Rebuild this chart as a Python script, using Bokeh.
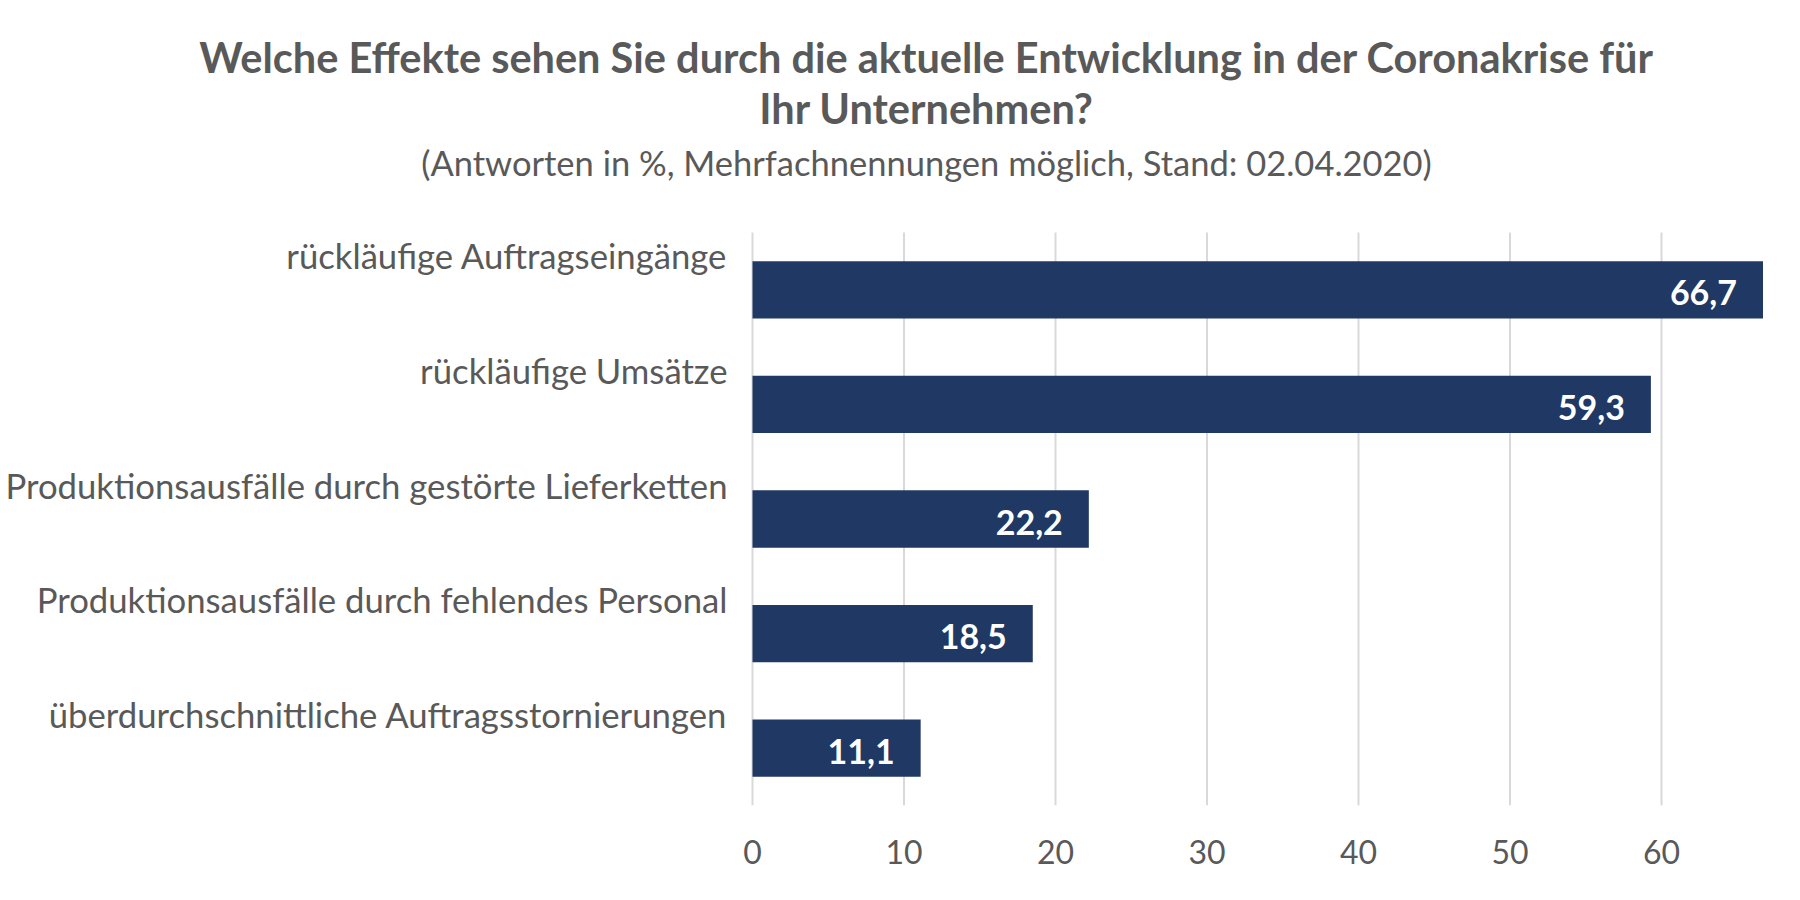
from bokeh.plotting import figure
from bokeh.models import ColumnDataSource, Label, Range1d, FixedTicker
from bokeh.core.properties import value
from bokeh.embed import file_html
from bokeh.resources import INLINE

# data, top to bottom as in the chart
categories = [
    "rückläufige Auftragseingänge",
    "rückläufige Umsätze",
    "Produktionsausfälle durch gestörte Lieferketten",
    "Produktionsausfälle durch fehlendes Personal",
    "überdurchschnittliche Auftragsstornierungen",
]
values = [66.7, 59.3, 22.2, 18.5, 11.1]
value_labels = ["66,7", "59,3", "22,2", "18,5", "11,1"]
x_ticks = [0, 10, 20, 30, 40, 50, 60]

title_1 = "Welche Effekte sehen Sie durch die aktuelle Entwicklung in der Coronakrise für"
title_2 = "Ihr Unternehmen?"
subtitle = "(Antworten in %, Mehrfachnennungen möglich, Stand: 02.04.2020)"

FONT = "Lato"
GREY = "#595959"
NAVY = "#203864"

W, H = 1784, 884
# pixel geometry of the plotting area (the frame covers the whole top/left so that
# the texts outside the bars are not clipped)
x0_px, grid_top, grid_bottom = 752, 232, 805
px_x = 15.15                      # pixels per percent
px_y = (grid_bottom - grid_top) / len(categories)

n = len(categories)
ypos = [n - i - 0.5 for i in range(n)]

src = ColumnDataSource(dict(y=ypos, cat=categories, val=values, lab=value_labels))

p = figure(width=W, height=H, output_backend="svg", toolbar_location=None,
           x_range=Range1d(-x0_px / px_x, (W - x0_px) / px_x),
           y_range=Range1d(0, grid_bottom / px_y),
           min_border_left=0, min_border_right=0, min_border_top=0,
           min_border_bottom=H - grid_bottom)
p.outline_line_color = None
p.background_fill_color = "white"
p.border_fill_color = "white"
p.yaxis.visible = False
p.grid.visible = False

# vertical grid lines, only across the bar area
p.segment(x0=x_ticks, y0=0, x1=x_ticks, y1=n, line_color="#D9D9D9", line_width=2)

p.hbar(y="y", right="val", left=0, height=0.5, source=src,
       fill_color=NAVY, line_color=None)

p.xaxis.ticker = FixedTicker(ticks=x_ticks)
p.xaxis.axis_line_color = None
p.xaxis.major_tick_line_color = None
p.xaxis.minor_tick_line_color = None
p.xaxis.major_label_text_font = FONT
p.xaxis.major_label_text_font_size = "32px"
p.xaxis.major_label_text_color = GREY
p.xaxis.major_label_standoff = 28

# category labels sit above the bar centres, right aligned at the zero line
p.text(x=0, y="y", text="cat", source=src, x_offset=-25, y_offset=-34,
       text_align="right", text_baseline="middle",
       text_font=value(FONT), text_font_size="34.7px", text_color=GREY)

p.text(x="val", y="y", text="lab", source=src, x_offset=-26, y_offset=3,
       text_align="right", text_baseline="middle",
       text_font=value(FONT), text_font_size="34px", text_font_style="bold",
       text_color="white")

# titles, placed relative to the top left corner of the bar area
for txt, dy, size, style in [(title_1, 176, "41.5px", "bold"),
                             (title_2, 125, "41.5px", "bold"),
                             (subtitle, 70, "34.5px", "normal")]:
    p.add_layout(Label(x=0, y=n, x_offset=926 - x0_px, y_offset=dy, text=txt,
                       text_align="center", text_baseline="middle",
                       text_font=FONT, text_font_size=size, text_font_style=style,
                       text_color=GREY))

open("out.html", "w").write(file_html(p, INLINE))
